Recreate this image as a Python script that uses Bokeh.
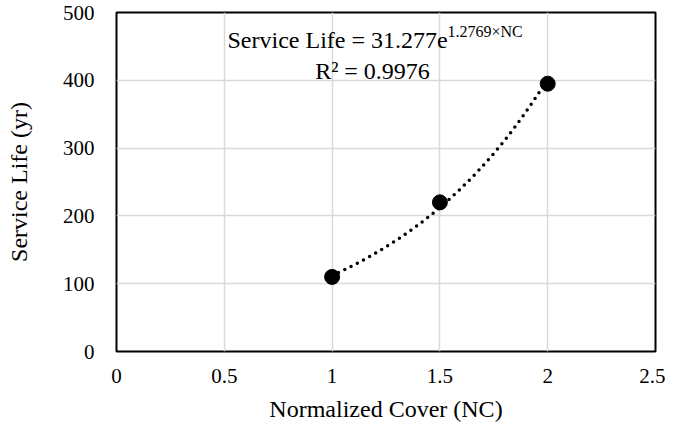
import numpy as np
from bokeh.plotting import figure
from bokeh.models import Label, Range1d, FixedTicker
from bokeh.embed import file_html
from bokeh.resources import INLINE

# data
normalized_cover = [1.0, 1.5, 2.0]
service_life = [110, 220, 395]
fit_a = 31.277
fit_b = 1.2769
r_squared = "0.9976"
x_ticks = [0, 0.5, 1, 1.5, 2, 2.5]
y_ticks = [0, 100, 200, 300, 400, 500]

FONT = "Liberation Serif"

p = figure(width=665, height=430, output_backend="svg", toolbar_location=None,
           x_range=Range1d(0, 2.5), y_range=Range1d(0, 500),
           min_border_left=116, min_border_right=10, min_border_top=12, min_border_bottom=79)

p.outline_line_color = "black"
p.outline_line_width = 2
p.background_fill_color = "white"
p.border_fill_color = "white"

for ax in (p.xaxis[0], p.yaxis[0]):
    ax.axis_line_color = None
    ax.major_tick_line_color = None
    ax.minor_tick_line_color = None
    ax.major_tick_out = 0
    ax.major_tick_in = 0
    ax.minor_tick_out = 0
    ax.minor_tick_in = 0
    ax.major_label_text_font = FONT
    ax.major_label_text_font_size = "21px"
    ax.major_label_text_color = "black"
    ax.axis_label_text_font = FONT
    ax.axis_label_text_font_size = "24px"
    ax.axis_label_text_font_style = "normal"
    ax.axis_label_text_color = "black"

p.xaxis.ticker = FixedTicker(ticks=x_ticks)
p.yaxis.ticker = FixedTicker(ticks=y_ticks)
p.xaxis.major_label_overrides = {0: "0", 0.5: "0.5", 1: "1", 1.5: "1.5", 2: "2", 2.5: "2.5"}
p.xaxis.axis_label = "Normalized Cover (NC)"
p.yaxis.axis_label = "Service Life (yr)"
p.xaxis.major_label_standoff = 17
p.yaxis.major_label_standoff = 22
p.xaxis.axis_label_standoff = 10
p.yaxis.axis_label_standoff = 28

p.xgrid.grid_line_color = "#d9d9d9"
p.ygrid.grid_line_color = "#d9d9d9"
p.xgrid.grid_line_width = 1.5
p.ygrid.grid_line_width = 1.5

# trendline from the displayed equation
xs = np.linspace(min(normalized_cover), max(normalized_cover), 80)
ys = fit_a * np.exp(fit_b * xs)
p.line(xs, ys, line_color="black", line_width=3.5, line_dash="0 7", line_cap="round")

p.scatter(normalized_cover, service_life, size=15, color="black")

p.add_layout(Label(x=111, y=312, x_units="screen", y_units="screen",
                   text="Service Life = 31.277e", text_font=FONT, text_font_size="24px",
                   text_color="black", text_baseline="alphabetic"))
p.add_layout(Label(x=331, y=320, x_units="screen", y_units="screen",
                   text="1.2769×NC", text_font=FONT, text_font_size="16px",
                   text_color="black", text_baseline="alphabetic"))
p.add_layout(Label(x=256, y=281, x_units="screen", y_units="screen",
                   text="R² = " + r_squared, text_font=FONT, text_font_size="24px",
                   text_color="black", text_baseline="alphabetic", text_align="center"))

open("out.html", "w").write(file_html(p, INLINE))
